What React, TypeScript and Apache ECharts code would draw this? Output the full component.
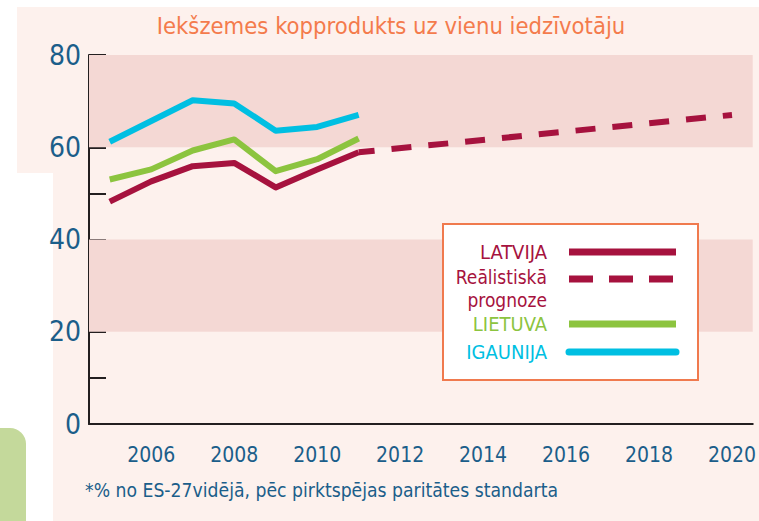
import React, { useEffect, useRef } from "react";
import * as echarts from "echarts";

const years = ["2005","2006","2007","2008","2009","2010","2011","2012","2013","2014","2015","2016","2017","2018","2019","2020"];
const latvija = [48.2, 52.6, 55.9, 56.6, 51.3, 55.2, 58.9, null, null, null, null, null, null, null, null, null];
const prognoze = [null, null, null, null, null, null, 58.9, null, null, null, null, null, null, null, null, 67.0];
const lietuva = [53.0, 55.2, 59.3, 61.7, 54.8, 57.4, 61.9, null, null, null, null, null, null, null, null, null];
const igaunija = [61.2, 65.7, 70.2, 69.5, 63.6, 64.4, 67.0, null, null, null, null, null, null, null, null, null];
const yBands = [[60, 80], [20, 40]];
const legendNames = ["LATVIJA", "Reālistiskā", "prognoze", "LIETUVA", "IGAUNIJA"];
const titleText = "Iekšzemes kopprodukts uz vienu iedzīvotāju";
const footnote = "*% no ES-27vidējā, pēc pirktspējas paritātes standarta";

const FONT = "'Liberation Sans Narrow', 'DejaVu Sans Condensed', 'Roboto', sans-serif";
const RED = "#a6123e";
const GREEN = "#8cc43f";
const CYAN = "#00bfe2";
const BLUE = "#1b5e8a";

export default function App() {
  const ref = useRef<HTMLDivElement>(null);
  useEffect(() => {
    const chart = echarts.init(ref.current!, null, { renderer: "svg" });
    const legendX = 443, legendY = 224;
    const lx = 547, l1 = 569, l2 = 676;
    const rows = [252, 279, 324, 352];
    const lt = (text: string, y: number, color: string, size = 20) => ({
      type: "text", z: 51, x: lx, y,
      style: { text, fill: color, font: `${size}px ${FONT}`, lineHeight: size, textAlign: "right", textVerticalAlign: "middle" },
    });
    chart.setOption({
      animation: false,
      grid: { left: 89, right: 5, top: 55, bottom: 97 },
      xAxis: {
        type: "category",
        data: years,
        boundaryGap: true,
        axisLine: { lineStyle: { color: "#231f20", width: 2 } },
        axisTick: { alignWithLabel: true, inside: true, length: 10, lineStyle: { color: "#231f20", width: 2 } },
        axisLabel: {
          interval: (i: number) => i % 2 === 1,
          color: BLUE,
          fontSize: 21,
          fontFamily: FONT,
          margin: 20,
        },
        splitLine: { show: false },
      },
      yAxis: {
        type: "value",
        min: 0,
        max: 80,
        interval: 10,
        axisLine: { show: true, lineStyle: { color: "#231f20", width: 2 } },
        axisTick: { show: true, inside: true, length: 17, lineStyle: { color: "#231f20", width: 2 } },
        axisLabel: {
          formatter: (v: number) => (v % 20 === 0 ? String(v) : ""),
          color: BLUE,
          fontSize: 28,
          fontFamily: FONT,
          margin: 8,
        },
        splitLine: { show: false },
      },
      graphic: [
        { type: "rect", z: -10, silent: true, shape: { x: 17, y: 7, width: 742, height: 166 }, style: { fill: "#fdf1ed" } },
        { type: "rect", z: -10, silent: true, shape: { x: 53, y: 172, width: 706, height: 349 }, style: { fill: "#fdf1ed" } },
        { type: "rect", z: -10, silent: true, shape: { x: -30, y: 428, width: 56, height: 120, r: 16 }, style: { fill: "#c4d99b" } },
        { type: "text", z: 10, x: 391, y: 26, style: { text: titleText, fill: "#f47b4c", font: `23.6px ${FONT}`, textAlign: "center", textVerticalAlign: "middle" } },
        {
          type: "rect", z: 50, silent: true,
          shape: { x: legendX, y: legendY, width: 255, height: 156 },
          style: { fill: "#ffffff", stroke: "#f07a4e", lineWidth: 2 },
        },
        lt(legendNames[0], rows[0], RED),
        lt(legendNames[1], rows[1] - 2, RED, 19),
        lt(legendNames[2], rows[1] + 21, RED, 19),
        lt(legendNames[3], rows[2], GREEN),
        lt(legendNames[4], rows[3], CYAN),
        { type: "line", z: 51, shape: { x1: l1, y1: rows[0], x2: l2, y2: rows[0] }, style: { stroke: RED, lineWidth: 7 } },
        { type: "line", z: 51, shape: { x1: l1, y1: rows[1], x2: l2, y2: rows[1] }, style: { stroke: RED, lineWidth: 7, lineDash: [24, 16] } },
        { type: "line", z: 51, shape: { x1: l1, y1: rows[2], x2: l2, y2: rows[2] }, style: { stroke: GREEN, lineWidth: 7 } },
        { type: "line", z: 51, shape: { x1: l1, y1: rows[3], x2: l2, y2: rows[3] }, style: { stroke: CYAN, lineWidth: 7, lineCap: "round" } },
        { type: "text", z: 51, x: 85, y: 490, style: { text: footnote, fill: BLUE, font: `19.2px ${FONT}`, textVerticalAlign: "middle" } },
      ],
      series: [
        {
          name: "bands",
          type: "line",
          data: [],
          silent: true,
          markArea: {
            silent: true,
            itemStyle: { color: "#f4d8d4" },
            data: yBands.map((b) => [{ yAxis: b[0] }, { yAxis: b[1] }]),
          },
        },
        {
          name: "IGAUNIJA", type: "line", data: igaunija, showSymbol: false,
          lineStyle: { color: CYAN, width: 6, join: "round" }, itemStyle: { color: CYAN },
        },
        {
          name: "LIETUVA", type: "line", data: lietuva, showSymbol: false,
          lineStyle: { color: GREEN, width: 6, join: "round" }, itemStyle: { color: GREEN },
        },
        {
          name: "Reālistiskā prognoze", type: "line", data: prognoze, showSymbol: false, connectNulls: true,
          lineStyle: { color: RED, width: 6, type: [20, 17], dashOffset: 4 }, itemStyle: { color: RED },
        },
        {
          name: "LATVIJA", type: "line", data: latvija, showSymbol: false,
          lineStyle: { color: RED, width: 6, join: "round" }, itemStyle: { color: RED },
        },
      ],
    });
    return () => chart.dispose();
  }, []);
  return <div ref={ref} style={{ width: 759, height: 521, position: "absolute", left: 0, top: 0 }} />;
}
